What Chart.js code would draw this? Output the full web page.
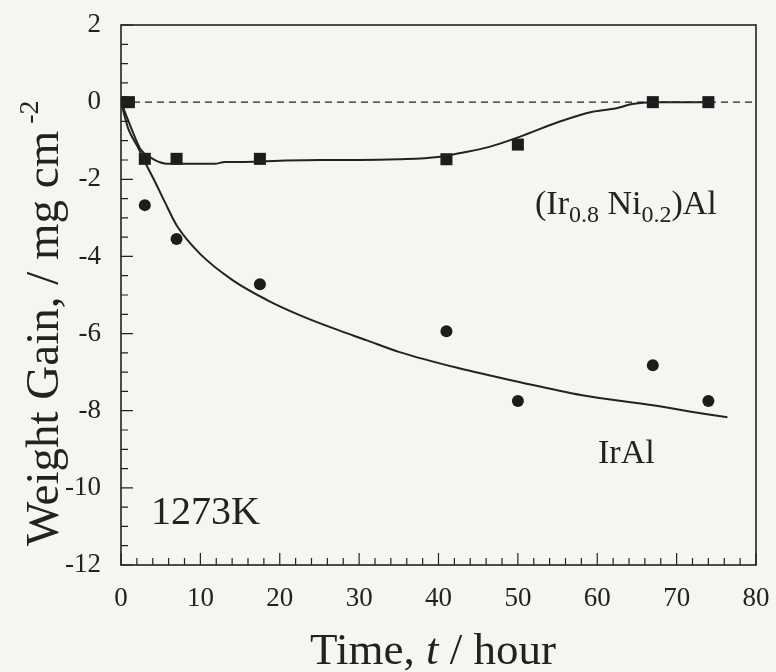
<!DOCTYPE html>
<html>
<head>
<meta charset="utf-8">
<script src="https://cdn.jsdelivr.net/npm/chart.js@4"></script>
<style>
  html, body { margin: 0; padding: 0; background: #f6f5f2; }
  #wrap { width: 776px; height: 672px; position: relative; }
</style>
</head>
<body>
<div id="wrap"><canvas id="myChart" width="776" height="672"></canvas></div>
<script>
'use strict'
// 측정값 (Ir0.8 Ni0.2)Al - 네모
const timeNi = [0, 1, 3, 7, 17.5, 41, 50, 67, 74];
const gainNi = [0, 0, -1.47, -1.47, -1.47, -1.48, -1.1, 0, 0];

// 측정값 IrAl - 동그라미
const timeIr = [0, 3, 7, 17.5, 41, 50, 67, 74];
const gainIr = [0, -2.67, -3.55, -4.72, -5.94, -7.75, -6.82, -7.75];

// 손으로 그린 추세선
const fitNiX = [0, 1.3, 2.4, 3.9, 5.5, 7, 9.5, 11.8, 13.1, 15.6, 20, 25, 30, 35, 40, 43, 46.4, 50.2, 55.2, 59.4, 62.4, 64.4, 67, 74];
const fitNiY = [0, -0.68, -1.2, -1.46, -1.59, -1.6, -1.6, -1.6, -1.55, -1.55, -1.52, -1.5, -1.5, -1.48, -1.42, -1.31, -1.16, -0.9, -0.51, -0.25, -0.16, -0.05, 0, 0];
const fitIrX = [0, 0.9, 2.2, 3.2, 4.3, 5.5, 7, 9.9, 14.1, 18.4, 22.5, 26.7, 30.9, 35.1, 42.6, 50, 58.1, 67, 73.2, 76.4];
const fitIrY = [0, -0.68, -1.2, -1.63, -2.07, -2.58, -3.19, -3.92, -4.62, -5.13, -5.52, -5.86, -6.17, -6.48, -6.9, -7.25, -7.6, -7.86, -8.07, -8.17];

// 축 눈금
const xTicks = [0, 10, 20, 30, 40, 50, 60, 70, 80];
const yTicks = [2, 0, -2, -4, -6, -8, -10, -12];
const xMinorStep = 2;
const yMinorStep = 0.5;

const ink = '#222';
const serif = '"Liberation Serif", "DejaVu Serif", serif';

function pts(xs, ys) {
  return xs.map((x, i) => ({ x: x, y: ys[i] }));
}

// 테두리, 안쪽 눈금, 축 제목, 글자 표시
const framePlugin = {
  id: 'frame',
  afterDraw(chart) {
    const c = chart.ctx, a = chart.chartArea;
    const xs = chart.scales.x, ys = chart.scales.y;
    c.save();
    c.strokeStyle = ink;
    c.lineWidth = 1.6;
    c.strokeRect(a.left, a.top, a.right - a.left, a.bottom - a.top);

    c.lineWidth = 1.2;
    c.beginPath();
    for (let v = xs.min; v <= xs.max + 1e-9; v += xMinorStep) {
      const px = xs.getPixelForValue(v);
      const len = (v % 10 === 0) ? 12 : 7;
      c.moveTo(px, a.bottom); c.lineTo(px, a.bottom - len);
    }
    for (let v = ys.min; v <= ys.max + 1e-9; v += yMinorStep) {
      const py = ys.getPixelForValue(v);
      const len = (Math.abs(v % 2) < 1e-9) ? 12 : 7;
      c.moveTo(a.left, py); c.lineTo(a.left + len, py);
    }
    c.stroke();

    c.fillStyle = ink;
    c.textBaseline = 'alphabetic';

    // x 축 제목
    const part1 = 'Time, ', part2 = 't', part3 = ' / hour';
    c.font = '45px ' + serif;
    const w1 = c.measureText(part1).width, w3 = c.measureText(part3).width;
    c.font = 'italic 45px ' + serif;
    const w2 = c.measureText(part2).width;
    let tx = 433 - (w1 + w2 + w3) / 2;
    const ty = 664;
    c.font = '45px ' + serif;
    c.fillText(part1, tx, ty);
    c.font = 'italic 45px ' + serif;
    c.fillText(part2, tx + w1, ty);
    c.font = '45px ' + serif;
    c.fillText(part3, tx + w1 + w2, ty);

    // y 축 제목 (세로)
    c.save();
    c.translate(58, 546);
    c.rotate(-Math.PI / 2);
    c.font = '47px ' + serif;
    const yt = 'Weight Gain, / mg cm';
    c.fillText(yt, 0, 0);
    const wy = c.measureText(yt).width;
    c.font = '28px ' + serif;
    c.fillText(' -2', wy, -20);
    c.restore();

    // 곡선 이름
    let x0 = 535, y0 = 214;
    const parts = [['(Ir', 0], ['0.8', 1], [' Ni', 0], ['0.2', 1], [')Al', 0]];
    parts.forEach(p => {
      c.font = (p[1] ? '24px ' : '34px ') + serif;
      c.fillText(p[0], x0, y0 + (p[1] ? 8 : 0));
      x0 += c.measureText(p[0]).width;
    });
    c.font = '34px ' + serif;
    c.fillText('IrAl', 598, 463);
    c.font = '40px ' + serif;
    c.fillText('1273K', 151, 524);
    c.restore();
  }
};

new Chart(document.getElementById('myChart').getContext('2d'), {
  type: 'scatter',
  data: {
    datasets: [
      {
        // 0 기준 점선
        type: 'line',
        data: [{ x: 0, y: 0 }, { x: 80, y: 0 }],
        borderColor: ink,
        borderWidth: 1.4,
        borderDash: [7, 5],
        pointRadius: 0,
      },
      {
        type: 'line',
        data: pts(fitIrX, fitIrY),
        borderColor: ink,
        borderWidth: 2,
        pointRadius: 0,
        cubicInterpolationMode: 'monotone',
      },
      {
        type: 'line',
        data: pts(fitNiX, fitNiY),
        borderColor: ink,
        borderWidth: 2,
        pointRadius: 0,
        cubicInterpolationMode: 'monotone',
      },
      {
        label: 'IrAl',
        data: pts(timeIr, gainIr),
        pointStyle: 'circle',
        pointRadius: 6,
        backgroundColor: '#1c1c1c',
        borderColor: '#1c1c1c',
        borderWidth: 0,
      },
      {
        label: '(Ir0.8 Ni0.2)Al',
        data: pts(timeNi, gainNi),
        pointStyle: 'rect',
        pointRadius: 8.5,
        backgroundColor: '#1c1c1c',
        borderColor: '#1c1c1c',
        borderWidth: 0,
      },
    ],
  },
  options: {
    responsive: false, // 크기 고정
    animation: false,
    layout: { padding: { top: 25, right: 20, left: 0, bottom: 0 } },
    plugins: {
      legend: { display: false },
      tooltip: { enabled: false },
    },
    scales: {
      x: {
        type: 'linear',
        min: 0, max: 80,
        grid: { display: false },
        border: { display: false },
        afterBuildTicks: s => { s.ticks = xTicks.map(v => ({ value: v })); },
        afterFit: s => { s.height = 672 - 565; s.paddingLeft = 0; s.paddingRight = 0; },
        ticks: { color: ink, padding: 10, maxRotation: 0, font: { family: serif, size: 27 } },
      },
      y: {
        type: 'linear',
        min: -12, max: 2,
        grid: { display: false },
        border: { display: false },
        afterBuildTicks: s => { s.ticks = yTicks.map(v => ({ value: v })); },
        afterFit: s => { s.width = 121; s.paddingTop = 0; s.paddingBottom = 0; },
        ticks: { color: ink, padding: 12, font: { family: serif, size: 27 } },
      },
    },
  },
  plugins: [framePlugin],
});
</script>
</body>
</html>
